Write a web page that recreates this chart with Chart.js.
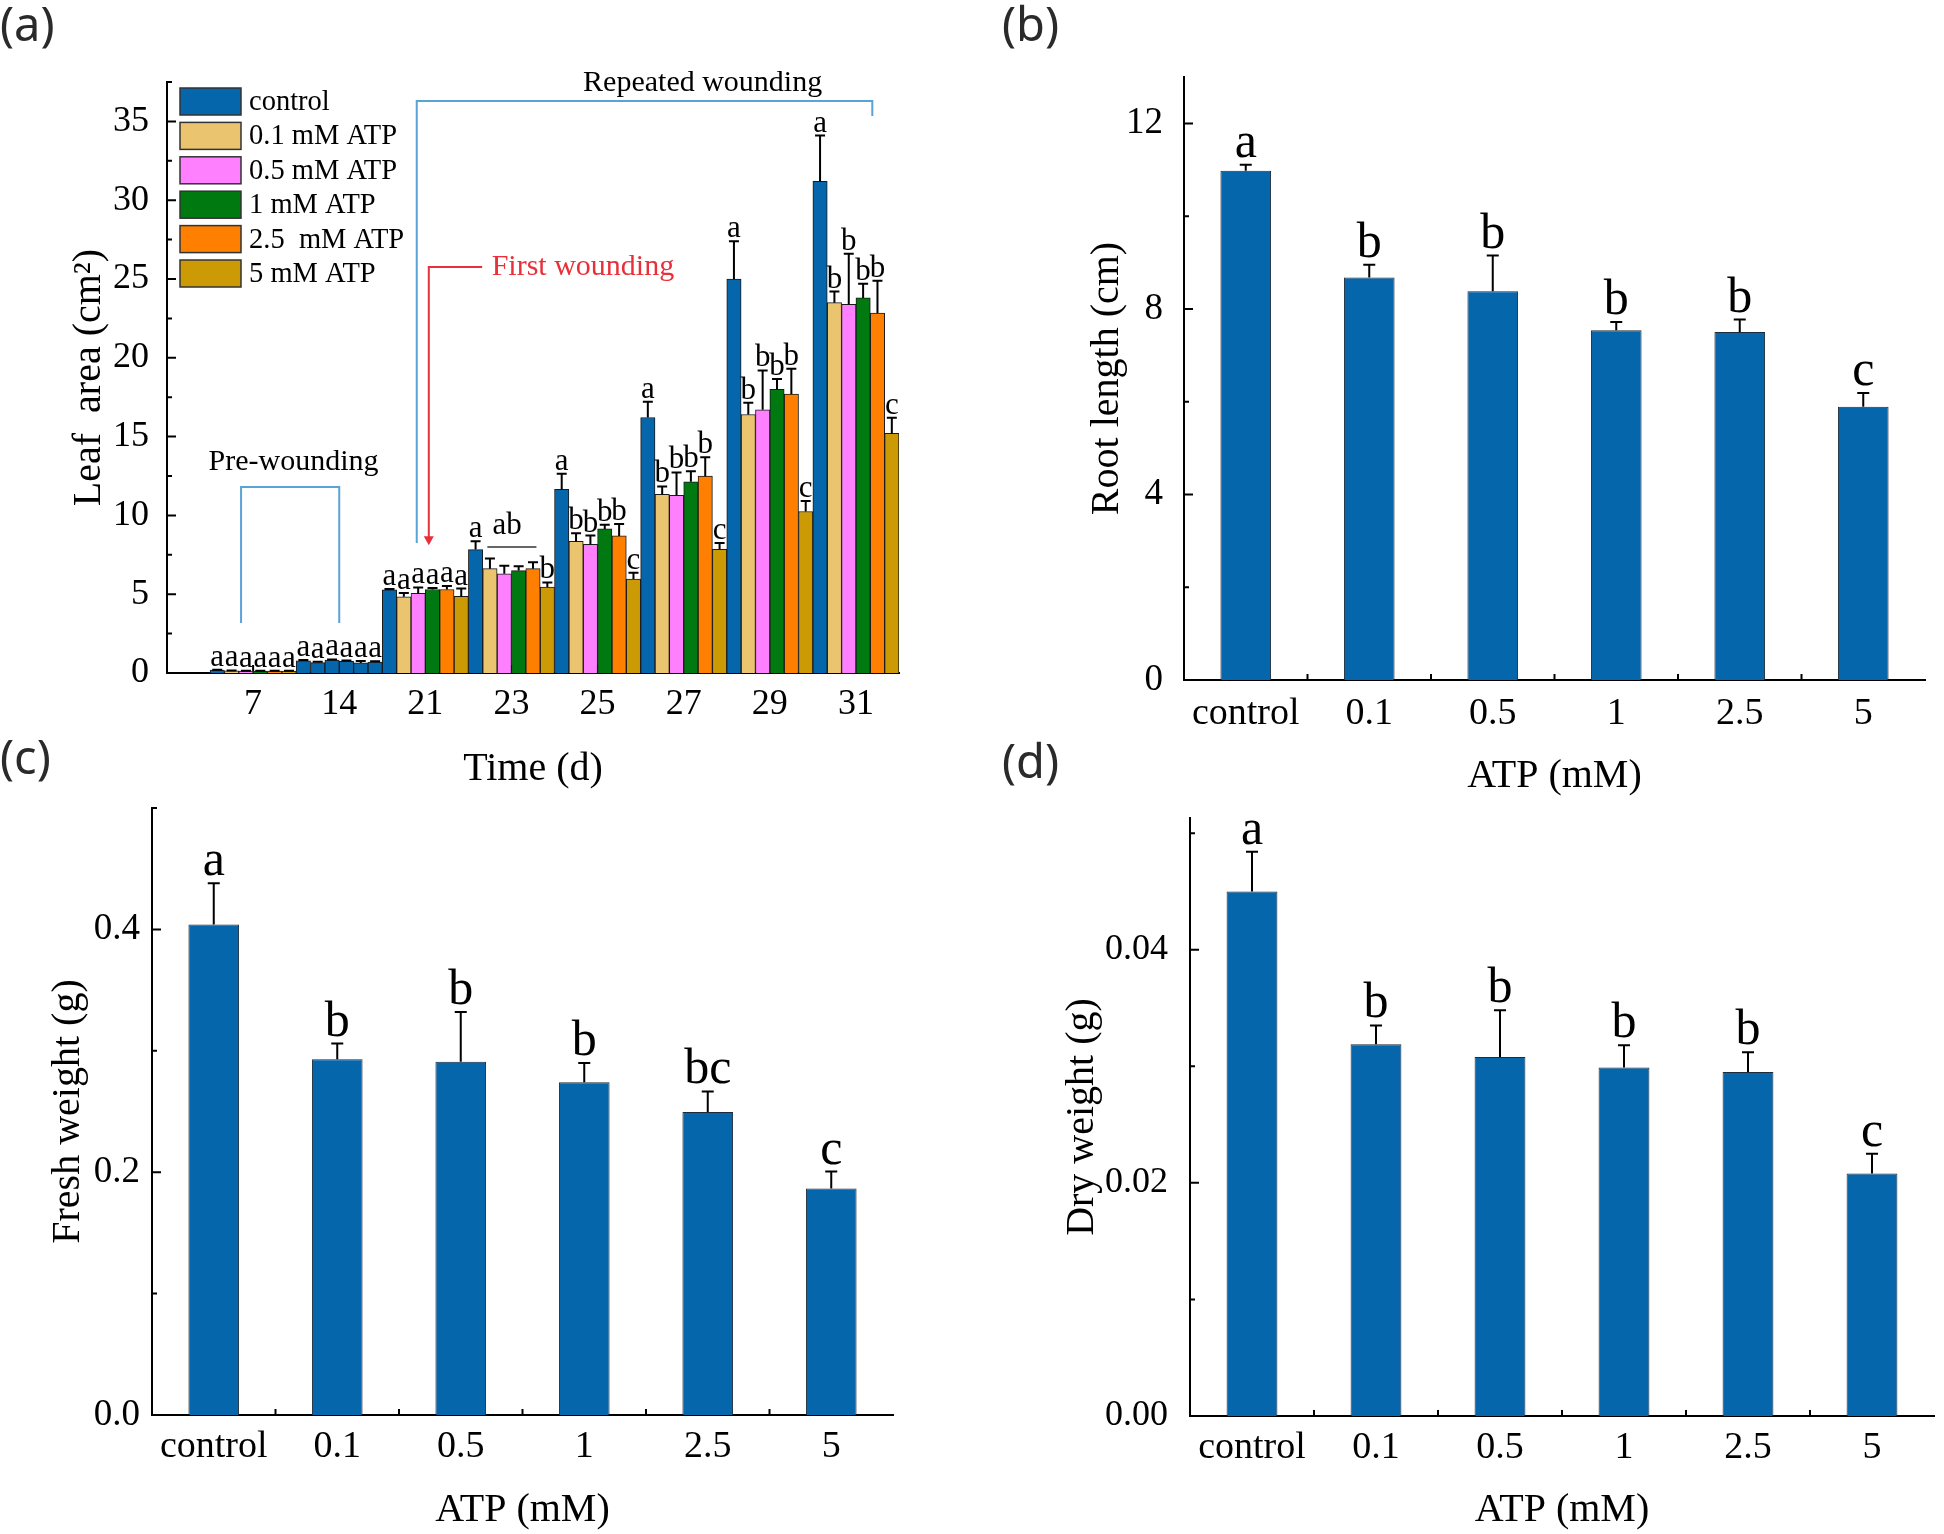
<!DOCTYPE html>
<html>
<head>
<meta charset="utf-8">
<script src="https://cdn.jsdelivr.net/npm/chart.js@4.4.0/dist/chart.umd.min.js"></script>
<style>
body{margin:0;background:#fff;width:1944px;height:1534px;position:relative;overflow:hidden}
canvas{position:absolute}
.tag{position:absolute;font-family:"Noto Sans";font-size:47px;color:#2a2a2a;line-height:1}
</style>
</head>
<body>
<canvas id="chartA" width="920" height="800" style="left:0;top:0"></canvas>
<canvas id="chartB" width="964" height="810" style="left:980px;top:0"></canvas>
<canvas id="chartC" width="920" height="774" style="left:0;top:760px"></canvas>
<canvas id="chartD" width="964" height="774" style="left:980px;top:760px"></canvas>
<div class="tag" style="left:0;top:0">(a)</div>
<div class="tag" style="left:1002px;top:0">(b)</div>
<div class="tag" style="left:0;top:733px">(c)</div>
<div class="tag" style="left:1002px;top:737px">(d)</div>
<script>
// ---- data: panel (a) leaf area over time ----
const days = ['7','14','21','23','25','27','29','31'];
const treatments = ['control','0.1 mM ATP','0.5 mM ATP','1 mM ATP','2.5  mM ATP','5 mM ATP'];

const leafControl = [0.18, 0.78, 5.28, 7.83, 11.65, 16.21, 25.0, 31.2];
const leafAtp01   = [0.14, 0.66, 4.84, 6.62, 8.35, 11.34, 16.4, 23.5];
const leafAtp05   = [0.12, 0.82, 5.05, 6.30, 8.16, 11.28, 16.7, 23.4];
const leafAtp1    = [0.12, 0.74, 5.30, 6.50, 9.14, 12.13, 18.0, 23.8];
const leafAtp25   = [0.12, 0.64, 5.30, 6.62, 8.70, 12.49, 17.7, 22.84];
const leafAtp5    = [0.12, 0.70, 4.86, 5.45, 5.96, 7.85, 10.25, 15.2];

const errControl = [0.03, 0.04, 0.05, 0.53, 1.0, 1.0, 2.4, 2.9];
const errAtp01   = [0.02, 0.05, 0.23, 0.64, 0.52, 0.5, 0.75, 0.7];
const errAtp05   = [0.02, 0.04, 0.38, 0.51, 0.56, 1.45, 2.5, 3.2];
const errAtp1    = [0.02, 0.05, 0.10, 0.28, 0.27, 0.67, 0.65, 0.9];
const errAtp25   = [0.02, 0.12, 0.22, 0.40, 0.75, 1.2, 1.6, 2.05];
const errAtp5    = [0.02, 0.05, 0.50, 0.30, 0.40, 0.4, 0.67, 1.0];

const letControl = ['a','a','a','a','a','a','a','a'];
const letAtp01   = ['a','a','a','','b','b','b','b'];
const letAtp05   = ['a','a','a','','b','b','b','b'];
const letAtp1    = ['a','a','a','','b','b','b','b'];
const letAtp25   = ['a','a','a','','b','b','b','b'];
const letAtp5    = ['a','a','a','b','c','c','c','c'];

// ---- data: panels (b)-(d) ----
const atpLevels = ['control','0.1','0.5','1','2.5','5'];

const rootLength = [10.98, 8.68, 8.38, 7.54, 7.50, 5.89];
const rootErr    = [0.13, 0.27, 0.77, 0.18, 0.27, 0.30];
const rootLetters = ['a','b','b','b','b','c'];

const freshWeight = [0.404, 0.293, 0.291, 0.274, 0.2495, 0.1865];
const freshErr    = [0.034, 0.013, 0.041, 0.016, 0.017, 0.014];
const freshLetters = ['a','b','b','b','bc','c'];

const dryWeight = [0.0450, 0.0319, 0.0308, 0.0299, 0.0295, 0.0208];
const dryErr    = [0.0034, 0.0016, 0.0040, 0.0019, 0.0017, 0.0017];
const dryLetters = ['a','b','b','b','b','c'];

const BLUE = '#0566ab';
const leafColors = [BLUE, '#ebc46f', '#ff80ff', '#007a10', '#ff8000', '#cc9a04'];
const SERIF = '"Liberation Serif", "Times New Roman", serif';

// up-only error bars with a letter above each
const errorBars = {
  id:'errorBars',
  afterDatasetsDraw(chart, args, o){
    const ctx = chart.ctx;
    const y = chart.scales.y;
    ctx.save();
    ctx.strokeStyle = '#000';
    ctx.lineWidth = 2;
    ctx.fillStyle = '#000';
    ctx.font = o.font;
    ctx.textAlign = 'center';
    ctx.textBaseline = 'alphabetic';
    chart.data.datasets.forEach((ds,i)=>{
      const meta = chart.getDatasetMeta(i);
      meta.data.forEach((bar,j)=>{
        const raw = ds.data[j];
        const val = typeof raw === 'object' ? raw.y : raw;
        const top = y.getPixelForValue(val + ds.errors[j]);
        ctx.beginPath();
        ctx.moveTo(bar.x, bar.y);
        ctx.lineTo(bar.x, top);
        ctx.moveTo(bar.x - o.cap/2, top);
        ctx.lineTo(bar.x + o.cap/2, top);
        ctx.stroke();
        if(ds.letters[j]){
          ctx.fillText(ds.letters[j], bar.x, top - o.gap);
        }
      });
    });
    ctx.restore();
  }
};

// Origin style inward ticks
const inwardTicks = {
  id:'inwardTicks',
  beforeDatasetsDraw(chart, args, o){
    const {ctx, chartArea:a, scales:{x,y}} = chart;
    ctx.save();
    ctx.strokeStyle = '#000';
    ctx.lineWidth = 2;
    ctx.beginPath();
    const half = o.yStep/2;
    for(let k=1; k*half <= y.max + 1e-9; k++){
      const py = y.getPixelForValue(k*half);
      ctx.moveTo(a.left, py);
      ctx.lineTo(a.left + (k%2===0 ? 9 : 5), py);
    }
    const n = x.ticks.length;
    for(let i=0;i<n;i++){
      const px = x.getPixelForTick(i);
      ctx.moveTo(px, a.bottom);
      ctx.lineTo(px, a.bottom - 8);
      if(o.xBounds && i<n-1){
        const mid = (px + x.getPixelForTick(i+1))/2;
        ctx.moveTo(mid, a.bottom);
        ctx.lineTo(mid, a.bottom - 6);
      }
    }
    ctx.stroke();
    ctx.restore();
  }
};

// legend boxes for panel (a)
const boxLegend = {
  id:'boxLegend',
  afterDraw(chart, args, o){
    const ctx = chart.ctx;
    ctx.save();
    ctx.font = o.font;
    ctx.textBaseline = 'middle';
    ctx.textAlign = 'left';
    chart.data.datasets.forEach((ds,i)=>{
      const y0 = o.y + i*o.step;
      ctx.fillStyle = leafColors[i];
      ctx.fillRect(o.x, y0, o.w, o.h);
      ctx.strokeStyle = '#333';
      ctx.lineWidth = 1.5;
      ctx.strokeRect(o.x, y0, o.w, o.h);
      ctx.fillStyle = '#000';
      ctx.fillText(ds.label, o.x + o.w + 8, y0 + o.h/2 + 1);
    });
    ctx.restore();
  }
};

// wounding brackets / arrows in panel (a), placed in data units
const notes = {
  repeated:{x0:2.9, x1:8.19, top:36.3, leftEnd:8.25, rightEnd:35.34, textX:6.22, textY:37.45},
  first:{x:3.04, y:25.76, tip:8.1, armX:3.66, textX:3.77},
  pre:{x0:0.86, x1:2.0, top:11.8, end:3.17, textX:1.47, textY:13.39},
  ab:{x0:3.72, x1:4.29, y:8.0, textX:3.95, textY:8.85}
};
const woundNotes = {
  id:'woundNotes',
  afterDatasetsDraw(chart){
    const {ctx, scales:{x,y}} = chart;
    const X = v=>x.getPixelForValue(v), Y = v=>y.getPixelForValue(v);
    ctx.save();
    ctx.font = '30px ' + SERIF;
    ctx.lineWidth = 2;
    // repeated wounding
    const r = notes.repeated;
    ctx.strokeStyle = '#5aa3d6';
    ctx.beginPath();
    ctx.moveTo(X(r.x0), Y(r.leftEnd));
    ctx.lineTo(X(r.x0), Y(r.top));
    ctx.lineTo(X(r.x1), Y(r.top));
    ctx.lineTo(X(r.x1), Y(r.rightEnd));
    ctx.stroke();
    ctx.fillStyle = '#000';
    ctx.textAlign = 'center';
    ctx.textBaseline = 'middle';
    ctx.fillText('Repeated wounding', X(r.textX), Y(r.textY));
    // pre-wounding
    const p = notes.pre;
    ctx.beginPath();
    ctx.moveTo(X(p.x0), Y(p.end));
    ctx.lineTo(X(p.x0), Y(p.top));
    ctx.lineTo(X(p.x1), Y(p.top));
    ctx.lineTo(X(p.x1), Y(p.end));
    ctx.stroke();
    ctx.fillText('Pre-wounding', X(p.textX), Y(p.textY));
    // first wounding arrow
    const f = notes.first;
    ctx.strokeStyle = '#e8303a';
    ctx.fillStyle = '#e8303a';
    ctx.beginPath();
    ctx.moveTo(X(f.armX), Y(f.y));
    ctx.lineTo(X(f.x), Y(f.y));
    ctx.lineTo(X(f.x), Y(f.tip) - 8);
    ctx.stroke();
    ctx.beginPath();
    ctx.moveTo(X(f.x) - 5, Y(f.tip) - 9);
    ctx.lineTo(X(f.x) + 5, Y(f.tip) - 9);
    ctx.lineTo(X(f.x), Y(f.tip));
    ctx.closePath();
    ctx.fill();
    ctx.textAlign = 'left';
    ctx.fillText('First wounding', X(f.textX), Y(f.y));
    // shared letter over day 23
    const b = notes.ab;
    ctx.strokeStyle = '#666';
    ctx.beginPath();
    ctx.moveTo(X(b.x0), Y(b.y));
    ctx.lineTo(X(b.x1), Y(b.y));
    ctx.stroke();
    ctx.fillStyle = '#000';
    ctx.textAlign = 'center';
    ctx.textBaseline = 'alphabetic';
    ctx.font = '31px ' + SERIF;
    ctx.fillText('ab', X(b.textX), Y(b.textY));
    ctx.restore();
  }
};

// ---- panel (a) ----
const leafSeries = [leafControl, leafAtp01, leafAtp05, leafAtp1, leafAtp25, leafAtp5];
const leafErrs = [errControl, errAtp01, errAtp05, errAtp1, errAtp25, errAtp5];
const leafLetters = [letControl, letAtp01, letAtp05, letAtp1, letAtp25, letAtp5];

new Chart(document.getElementById('chartA'), {
  type:'bar',
  data:{
    datasets: leafSeries.map((s,k)=>({
      label: treatments[k],
      data: s.map((v,i)=>({x:i+1, y:v})),
      errors: leafErrs[k],
      letters: leafLetters[k],
      // all day-14 bars are drawn in the control blue in the original
      backgroundColor: c => c.dataIndex === 1 ? BLUE : leafColors[k],
      borderColor:'#1a1a1a',
      borderWidth:1,
      categoryPercentage:1,
      barPercentage:1
    }))
  },
  options:{
    responsive:false,
    animation:false,
    layout:{padding:{top:82, right:21, left:0, bottom:0}},
    plugins:{
      legend:{display:false},
      tooltip:{enabled:false},
      errorBars:{cap:10, gap:4, font:'31px ' + SERIF},
      inwardTicks:{yStep:5, xBounds:false},
      boxLegend:{x:180, y:88, w:61, h:27, step:34.4, font:'28.5px ' + SERIF}
    },
    scales:{
      x:{
        type:'linear', min:0, max:8.5, offset:false,
        grid:{display:false, drawTicks:false},
        border:{display:true, color:'#000', width:2},
        afterBuildTicks: s => { s.ticks = days.map((d,i)=>({value:i+1})); },
        afterFit: s => { s.height = 127; },
        ticks:{
          autoSkip:false, maxRotation:0, padding:10, color:'#000',
          font:{family:SERIF, size:36},
          callback: v => days[v-1]
        },
        title:{display:true, text:'Time (d)', color:'#000', font:{family:SERIF, size:40}, padding:{top:0, bottom:7}}
      },
      y:{
        min:0, max:37.5,
        grid:{display:false, drawTicks:false},
        border:{display:true, color:'#000', width:2},
        afterFit: s => { s.width = 167; },
        ticks:{stepSize:5, includeBounds:false, padding:18, color:'#000', font:{family:SERIF, size:36}},
        title:{display:true, text:'Leaf  area (cm²)', color:'#000', font:{family:SERIF, size:40}, padding:{top:65, bottom:0}}
      }
    }
  },
  plugins:[inwardTicks, errorBars, woundNotes, boxLegend]
});

// ---- panels (b)-(d) ----
function atpPanel(id, values, errs, letters, o){
  return new Chart(document.getElementById(id), {
    type:'bar',
    data:{
      labels: atpLevels,
      datasets:[{
        data: values,
        errors: errs,
        letters: letters,
        backgroundColor: BLUE,
        borderColor:'#1d2b3a',
        borderWidth:1,
        categoryPercentage:1,
        barPercentage:0.41
      }]
    },
    options:{
      responsive:false,
      animation:false,
      layout:{padding:{top:o.top, right:o.right, left:0, bottom:0}},
      plugins:{
        legend:{display:false},
        tooltip:{enabled:false},
        errorBars:{cap:12, gap:8, font:'50px ' + SERIF},
        inwardTicks:{yStep:o.step, xBounds:true}
      },
      scales:{
        x:{
          grid:{display:false, drawTicks:false},
          border:{display:true, color:'#000', width:2},
          afterFit: s => { s.height = o.xHeight; },
          ticks:{autoSkip:false, maxRotation:0, padding:o.xPad, color:'#000', font:{family:SERIF, size:38}},
          title:{display:true, text:'ATP (mM)', color:'#000', font:{family:SERIF, size:40}, padding:{top:0, bottom:o.xTitlePad}}
        },
        y:{
          min:0, max:o.max,
          grid:{display:false, drawTicks:false},
          border:{display:true, color:'#000', width:2},
          afterFit: s => { s.width = o.yWidth; },
          ticks:{stepSize:o.step, includeBounds:false, padding:o.yPad, color:'#000',
            font:{family:SERIF, size:o.tickSize}, callback: v => v.toFixed(o.dec)},
          title:{display:true, text:o.title, color:'#000', font:{family:SERIF, size:40}, padding:{top:o.yTitlePad, bottom:0}}
        }
      }
    },
    plugins:[inwardTicks, errorBars]
  });
}

atpPanel('chartB', rootLength, rootErr, rootLetters,
  {top:77, right:19, xHeight:130, yWidth:204, max:13, step:4, dec:0, xPad:11, yPad:21, tickSize:37, xTitlePad:10, yTitlePad:103, title:'Root length (cm)'});
atpPanel('chartC', freshWeight, freshErr, freshLetters,
  {top:48, right:27, xHeight:119, yWidth:152, max:0.5, step:0.2, dec:1, xPad:9, yPad:12, tickSize:37, xTitlePad:0, yTitlePad:44, title:'Fresh weight (g)'});
atpPanel('chartD', dryWeight, dryErr, dryLetters,
  {top:58, right:10, xHeight:118, yWidth:210, max:0.0513, step:0.02, dec:2, xPad:9, yPad:22, tickSize:36, xTitlePad:0, yTitlePad:78, title:'Dry weight (g)'});
</script>
</body>
</html>
